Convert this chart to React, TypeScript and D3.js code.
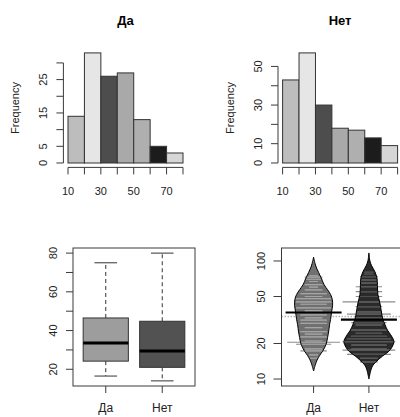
import React from "react";
import * as d3 from "d3";

// ---------- data ----------
const histBreaks = [10, 20, 30, 40, 50, 60, 70, 80];
const histDa = [14, 33, 26, 27, 13, 5, 3];
const histNet = [43, 57, 30, 18, 17, 13, 9];
const barGrays = ["#bdbdbd", "#e6e6e6", "#4d4d4d", "#a9a9a9", "#afafaf", "#1c1c1c", "#d6d6d6"];
const histTicksX = [10, 20, 30, 40, 50, 60, 70, 80];
const histLabelsX = [10, 30, 50, 70];
const daTicksY = [0, 5, 10, 15, 20, 25, 30];
const daLabelsY = [0, 5, 15, 25];
const netTicksY = [0, 10, 20, 30, 40, 50];
const netLabelsY = [0, 10, 30, 50];

const groups = ["Да", "Нет"];
const boxLow = [16.5, 14];
const boxQ1 = [24.2, 21];
const boxMed = [33.6, 29.4];
const boxQ3 = [46.5, 44.8];
const boxHigh = [75, 80];
const boxFills = ["#9d9d9d", "#525252"];
const boxTicks = [20, 30, 40, 50, 60, 70, 80];
const boxLabels = [20, 40, 60, 80];

const beanTicks = [10, 20, 50, 100];
const daDensV = [11.7, 13.2, 14.5, 15.8, 17.2, 19.7, 22.5, 25, 29, 32, 37, 42, 47, 52, 57, 63, 72, 80, 87, 95, 108];
const daDensD = [0, 0.07, 0.14, 0.24, 0.36, 0.5, 0.56, 0.6, 0.64, 0.68, 0.72, 0.76, 0.75, 0.68, 0.56, 0.42, 0.3, 0.2, 0.12, 0.06, 0];
const netDensV = [10, 11.5, 12.6, 13.4, 14.2, 15, 16.2, 17.2, 18.6, 20.8, 23.9, 26, 29, 32, 37, 44, 52, 62, 72, 81, 92, 100, 117];
const netDensD = [0, 0.06, 0.12, 0.2, 0.32, 0.44, 0.64, 0.8, 0.92, 1, 0.86, 0.74, 0.64, 0.56, 0.5, 0.44, 0.36, 0.34, 0.32, 0.24, 0.1, 0.04, 0];
const daLineV = [75, 73, 70, 67, 63, 60, 57, 53, 50, 48, 45, 43, 40, 38, 37, 35, 33, 31.6, 29.6, 27.3, 25.2, 24, 22.8, 21, 20.5, 19.7, 18, 17.3, 16, 15];
const daLineN = [1, 2, 2, 1, 2, 1, 2, 3, 2, 4, 4, 3, 4, 2, 2, 3, 2, 3, 3, 2, 3, 2, 3, 2, 6, 4, 2, 3, 1, 1];
const netLineV = [80, 77, 73.6, 69, 65, 60.5, 55, 50, 45, 41, 37, 35.5, 33, 30, 28.7, 26, 24.4, 23, 22, 20.7, 19.4, 18, 17.6, 16.2, 15, 14];
const netLineN = [1, 1, 2, 2, 2, 3, 3, 3, 6, 3, 3, 5, 3, 4, 3, 4, 3, 4, 5, 6, 4, 4, 6, 5, 2, 2];
const beanMeans = [36.6, 31.9];
const overallMean = 33.8;
const beanFills = ["#707070", "#2a2a2a"];
const beanInner = ["#a4a4a4", "#4e4e4e"];
const beanOuter = "#8c8c8c";

// ---------- styling ----------
const FONT = "Liberation Sans, Arial, sans-serif";
const AX = "#3a3a3a";

function Hist({ counts, x0, x1, yMax, ticksY, labelsY, title }: any) {
  const x = d3.scaleLinear().domain([7.2, 82.8]).range([x0, x1]);
  const y = d3.scaleLinear().domain([-yMax * 0.04, yMax * 1.04]).range([167.4, 48.5]);
  const bins = d3.pairs(histBreaks);
  const ax = x0;
  const ay = 167.4;
  const cx = (x(10) + x(80)) / 2;
  return (
    <g>
      <text x={cx} y={25} textAnchor="middle" fontFamily={FONT} fontWeight="bold" fontSize={13}>{title}</text>
      {bins.map(([a, b], i) => (
        <rect key={i} x={x(a)} y={y(counts[i])} width={x(b) - x(a)} height={y(0) - y(counts[i])}
          fill={barGrays[i]} stroke="#333" strokeWidth={1} />
      ))}
      <line x1={x(10)} x2={x(80)} y1={ay} y2={ay} stroke={AX} />
      {histTicksX.map((t) => (
        <line key={t} x1={x(t)} x2={x(t)} y1={ay} y2={ay + 7} stroke={AX} />
      ))}
      {histLabelsX.map((t) => (
        <text key={t} x={x(t)} y={195} textAnchor="middle" fontFamily={FONT} fontSize={11} fill="#222">{t}</text>
      ))}
      <line x1={ax} x2={ax} y1={y(ticksY[0])} y2={y(ticksY[ticksY.length - 1])} stroke={AX} />
      {ticksY.map((t: number) => (
        <line key={t} x1={ax - 7} x2={ax} y1={y(t)} y2={y(t)} stroke={AX} />
      ))}
      {labelsY.map((t: number) => (
        <text key={t} transform={`translate(${ax - 16},${y(t)}) rotate(-90)`} textAnchor="middle"
          fontFamily={FONT} fontSize={11} fill="#222">{t}</text>
      ))}
      <text transform={`translate(${ax - 44},108) rotate(-90)`} textAnchor="middle" fontFamily={FONT}
        fontSize={11} fill="#222">Frequency</text>
    </g>
  );
}

function BoxPanel() {
  const fx0 = 73, fx1 = 195, fy0 = 248, fy1 = 386;
  const x = d3.scaleLinear().domain([0.42, 2.58]).range([fx0, fx1]);
  const y = d3.scaleLinear().domain([11.36, 82.64]).range([fy1, fy0]);
  const bw = (x(1.4) - x(0.6)) / 2;
  return (
    <g>
      {groups.map((g, i) => {
        const c = x(i + 1);
        return (
          <g key={g}>
            <line x1={c} x2={c} y1={y(boxQ3[i])} y2={y(boxHigh[i])} stroke="#333" strokeDasharray="4,3" />
            <line x1={c} x2={c} y1={y(boxQ1[i])} y2={y(boxLow[i])} stroke="#333" strokeDasharray="4,3" />
            <line x1={c - bw / 2} x2={c + bw / 2} y1={y(boxHigh[i])} y2={y(boxHigh[i])} stroke="#333" />
            <line x1={c - bw / 2} x2={c + bw / 2} y1={y(boxLow[i])} y2={y(boxLow[i])} stroke="#333" />
            <rect x={c - bw} y={y(boxQ3[i])} width={2 * bw} height={y(boxQ1[i]) - y(boxQ3[i])}
              fill={boxFills[i]} stroke="#333" />
            <line x1={c - bw} x2={c + bw} y1={y(boxMed[i])} y2={y(boxMed[i])} stroke="#000" strokeWidth={3} />
            <line x1={c} x2={c} y1={fy1} y2={fy1 + 7} stroke={AX} />
            <text x={c} y={412} textAnchor="middle" fontFamily={FONT} fontSize={12} fill="#222">{g}</text>
          </g>
        );
      })}
      <rect x={fx0} y={fy0} width={fx1 - fx0} height={fy1 - fy0} fill="none" stroke={AX} />
      {boxTicks.map((t) => (
        <line key={t} x1={fx0 - 7} x2={fx0} y1={y(t)} y2={y(t)} stroke={AX} />
      ))}
      {boxLabels.map((t) => (
        <text key={t} transform={`translate(${fx0 - 16},${y(t)}) rotate(-90)`} textAnchor="middle"
          fontFamily={FONT} fontSize={11} fill="#222">{t}</text>
      ))}
    </g>
  );
}

function BeanPanel() {
  const fx0 = 281.5, fx1 = 401, fy0 = 248, fy1 = 386;
  const x = d3.scaleLinear().domain([0.42, 2.58]).range([fx0, fx1]);
  const y = d3.scaleLog().domain([8.73, 128.8]).range([fy1, fy0]);
  const w = d3.scaleLinear().domain([0, 1]).range([0, 25]);
  const perCount = 4.4;
  const dens = [
    { v: daDensV, d: daDensD, lv: daLineV, ln: daLineN },
    { v: netDensV, d: netDensD, lv: netLineV, ln: netLineN },
  ];
  return (
    <g>
      <defs>
        <clipPath id="beanclip">
          <rect x={fx0} y={fy0} width={fx1 - fx0} height={fy1 - fy0} />
        </clipPath>
      </defs>
      <g clipPath="url(#beanclip)">
        <line x1={fx0} x2={fx1} y1={y(overallMean)} y2={y(overallMean)} stroke="#b5b5b5"
          strokeWidth={1.5} strokeDasharray="1.5,1.5" />
        {dens.map((b, i) => {
          const c = x(i + 1);
          const pts = b.v.map((v, k) => ({ v, d: b.d[k] }));
          const area = d3.area<any>()
            .y((p) => y(p.v))
            .x0((p) => c - w(p.d))
            .x1((p) => c + w(p.d))
            .curve(d3.curveCatmullRom);
          const widthAt = d3.scaleLinear().domain(b.v.map(Math.log)).range(b.d.map((dd) => w(dd))).clamp(true);
          return (
            <g key={i}>
              <path d={area(pts) || ""} fill={beanFills[i]} stroke="none" />
              {b.lv.map((v, k) => {
                const hl = b.ln[k] * perCount;
                const bw = Math.min(hl, widthAt(Math.log(v)));
                const yy = y(v);
                return (
                  <g key={k}>
                    <line x1={c - hl} x2={c + hl} y1={yy} y2={yy} stroke={beanOuter} strokeWidth={1.2} />
                    <line x1={c - bw} x2={c + bw} y1={yy} y2={yy} stroke={beanInner[i]} strokeWidth={1.2} />
                  </g>
                );
              })}
              <path d={area(pts) || ""} fill="none" stroke="#000" strokeWidth={1} />
              <line x1={c - 28} x2={c + 28} y1={y(beanMeans[i])} y2={y(beanMeans[i])} stroke="#000" strokeWidth={2.2} />
            </g>
          );
        })}
      </g>
      {groups.map((g, i) => (
        <g key={g}>
          <line x1={x(i + 1)} x2={x(i + 1)} y1={fy1} y2={fy1 + 7} stroke={AX} />
          <text x={x(i + 1)} y={412} textAnchor="middle" fontFamily={FONT} fontSize={12} fill="#222">{g}</text>
        </g>
      ))}
      <rect x={fx0} y={fy0} width={fx1 - fx0} height={fy1 - fy0} fill="none" stroke={AX} />
      {beanTicks.map((t) => (
        <line key={t} x1={fx0 - 8} x2={fx0} y1={y(t)} y2={y(t)} stroke={AX} />
      ))}
      {beanTicks.map((t) => (
        <text key={t} transform={`translate(${fx0 - 17},${y(t)}) rotate(-90)`} textAnchor="middle"
          fontFamily={FONT} fontSize={11} fill="#222">{t}</text>
      ))}
    </g>
  );
}

export default function App() {
  return (
    <svg width={400} height={417} style={{ position: "absolute", left: 0, top: 0, background: "#fff" }}>
      <rect width={400} height={417} fill="#fff" />
      <Hist counts={histDa} x0={63.4} x1={187.6} yMax={33} ticksY={daTicksY} labelsY={daLabelsY} title="Да" />
      <Hist counts={histNet} x0={278} x1={402.2} yMax={57} ticksY={netTicksY} labelsY={netLabelsY} title="Нет" />
      <BoxPanel />
      <BeanPanel />
    </svg>
  );
}
